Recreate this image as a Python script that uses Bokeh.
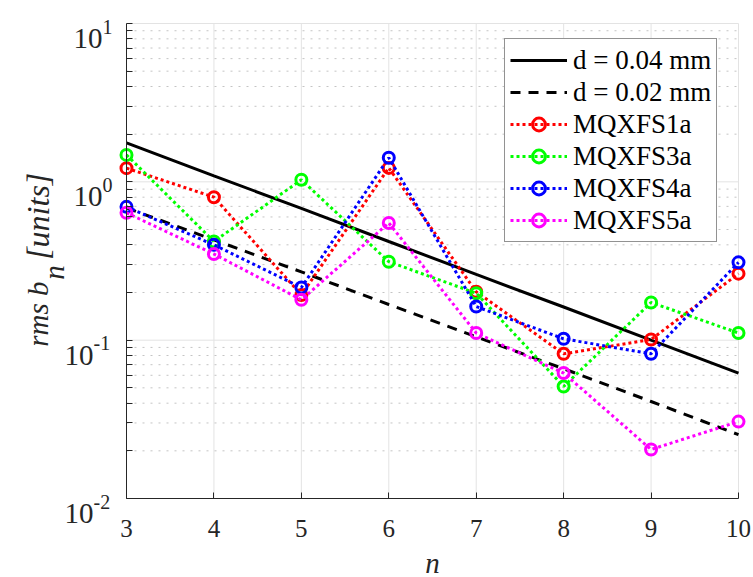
import math
from bokeh.plotting import figure
from bokeh.models import Range1d, Legend, LegendItem, FixedTicker
from bokeh.embed import file_html
from bokeh.resources import INLINE

# ---- data ----
n = [3, 4, 5, 6, 7, 8, 9, 10]
d004 = [1.76, 1.09, 0.68, 0.42, 0.26, 0.162, 0.100, 0.062]
d002 = [0.685, 0.43, 0.27, 0.168, 0.105, 0.066, 0.041, 0.0253]
mqxfs1a = [1.22, 0.80, 0.193, 1.225, 0.202, 0.082, 0.101, 0.263]
mqxfs3a = [1.48, 0.42, 1.03, 0.313, 0.198, 0.051, 0.173, 0.111]
mqxfs4a = [0.695, 0.40, 0.215, 1.42, 0.163, 0.102, 0.082, 0.31]
mqxfs5a = [0.637, 0.35, 0.18, 0.55, 0.111, 0.062, 0.0204, 0.0306]
series_names = ["MQXFS1a", "MQXFS3a", "MQXFS4a", "MQXFS5a"]
series_colors = ["#ff0000", "#00ff00", "#0000ff", "#ff00ff"]
x_ticks = [3, 4, 5, 6, 7, 8, 9, 10]
y_major = [0.01, 0.1, 1, 10]
y_exponents = ["-2", "-1", "0", "1"]
y_minor = [k * 10.0 ** e for e in (-2, -1, 0) for k in range(2, 10)]

FONT = "Liberation Serif"
AX = "#262626"

# ---- layout (pixels) ----
W, H = 753, 577
FL, FR, FT, FB = 126, 738, 23, 498          # data-area edges in the canvas
XMIN, XMAX = 3, 10
YMIN, YMAX = 0.01, 10
px_per_x = (FR - FL) / (XMAX - XMIN)
px_per_dec = (FB - FT) / math.log10(YMAX / YMIN)
x_range = Range1d(XMIN - FL / px_per_x, XMAX + (W - FR) / px_per_x)
y_range = Range1d(YMIN / 10 ** ((H - FB) / px_per_dec), YMAX * 10 ** (FT / px_per_dec))

p = figure(width=W, height=H, y_axis_type="log", x_range=x_range, y_range=y_range,
           output_backend="svg", toolbar_location=None, title_location=None,
           min_border=0)
p.outline_line_color = None
p.background_fill_color = "white"
p.border_fill_color = "white"
p.grid.visible = False

# ---- grid (from tick arrays, limited to the data area) ----
p.segment(x0=x_ticks, y0=[YMIN] * len(x_ticks), x1=x_ticks, y1=[YMAX] * len(x_ticks),
          line_color="#e3e3e3", line_width=1)
p.segment(x0=[XMIN] * len(y_minor), y0=y_minor, x1=[XMAX] * len(y_minor), y1=y_minor,
          line_color="#c4c4c4", line_width=1, line_dash="2 6")
p.segment(x0=[XMIN] * len(y_major), y0=y_major, x1=[XMAX] * len(y_major), y1=y_major,
          line_color="#e3e3e3", line_width=1)

# ---- axes ----
p.xaxis.fixed_location = YMIN
p.xaxis.bounds = (XMIN, XMAX)
p.yaxis.fixed_location = XMIN
p.yaxis.bounds = (YMIN, YMAX)
p.xaxis.ticker = FixedTicker(ticks=x_ticks)
p.yaxis.ticker = FixedTicker(ticks=y_major, minor_ticks=y_minor)
for ax in (p.xaxis, p.yaxis):
    ax.axis_line_color = AX
    ax.axis_line_width = 1
    ax.major_tick_line_color = AX
    ax.minor_tick_line_color = AX
    ax.major_tick_in = 6
    ax.major_tick_out = 0
    ax.minor_tick_in = 6
    ax.minor_tick_out = 0
p.xaxis.minor_tick_line_color = None
p.xaxis.major_label_text_font = FONT
p.xaxis.major_label_text_font_size = "25px"
p.xaxis.major_label_text_color = AX
p.xaxis.major_label_standoff = 21
p.xaxis.axis_label = "n"
p.xaxis.axis_label_text_font = FONT
p.xaxis.axis_label_text_font_style = "italic"
p.xaxis.axis_label_text_font_size = "29px"
p.xaxis.axis_label_text_color = AX
p.xaxis.axis_label_standoff = 7
p.yaxis.major_label_text_font_size = "1px"
p.yaxis.major_label_text_alpha = 0

# ---- data lines ----
r_solid = p.line(n, d004, line_color="black", line_width=3)
r_dash = p.line(n, d002, line_color="black", line_width=3, line_dash="10 8")
items = [LegendItem(label="d = 0.04 mm", renderers=[r_solid]),
         LegendItem(label="d = 0.02 mm", renderers=[r_dash])]
for name, vals, col in zip(series_names, [mqxfs1a, mqxfs3a, mqxfs4a, mqxfs5a], series_colors):
    rl = p.line(n, vals, line_color=col, line_width=3, line_dash="3 3")
    rs = p.scatter(n, vals, marker="circle", size=11, line_color=col,
                   line_width=3, fill_color=None)
    items.append(LegendItem(label=name, renderers=[rl, rs]))

legend = Legend(items=items, location=(504, H - 242))
legend.border_line_color = AX
legend.border_line_width = 1
legend.background_fill_color = "white"
legend.background_fill_alpha = 1
legend.label_text_font = FONT
legend.label_text_font_size = "27px"
legend.label_text_color = "black"
legend.glyph_width = 57
legend.glyph_height = 32
legend.label_height = 32
legend.spacing = 0
legend.padding = 5
legend.margin = 0
legend.label_standoff = 6
p.add_layout(legend, "center")

# ---- y tick labels 10^k ----
exp_w = [21 if e.startswith("-") else 12 for e in y_exponents]
p.text(x=[XMIN] * 4, y=y_major, text=["10"] * 4,
       x_offset=[-12 - w for w in exp_w], y_offset=15,
       text_align="right", text_baseline="alphabetic",
       text_font={"value": FONT}, text_font_size="29px", text_color=AX)
p.text(x=[XMIN] * 4, y=y_major, text=y_exponents,
       x_offset=[-12 - w for w in exp_w], y_offset=3,
       text_align="left", text_baseline="alphabetic",
       text_font={"value": FONT}, text_font_size="20px", text_color=AX)

# ---- y axis label: rms b_n [units] ----
ylab_parts = ["rms b", "n", "[units]"]
p.text(x=[XMIN] * 3, y=[1, 1, 1], text=ylab_parts,
       x_offset=[-89, -73, -89], y_offset=[165, 98, 78],
       angle=math.pi / 2, text_align="left", text_baseline="alphabetic",
       text_font={"value": FONT}, text_font_style="italic",
       text_font_size=["29px", "29px", "32px"], text_color=AX)

open("out.html", "w").write(file_html(p, INLINE))
